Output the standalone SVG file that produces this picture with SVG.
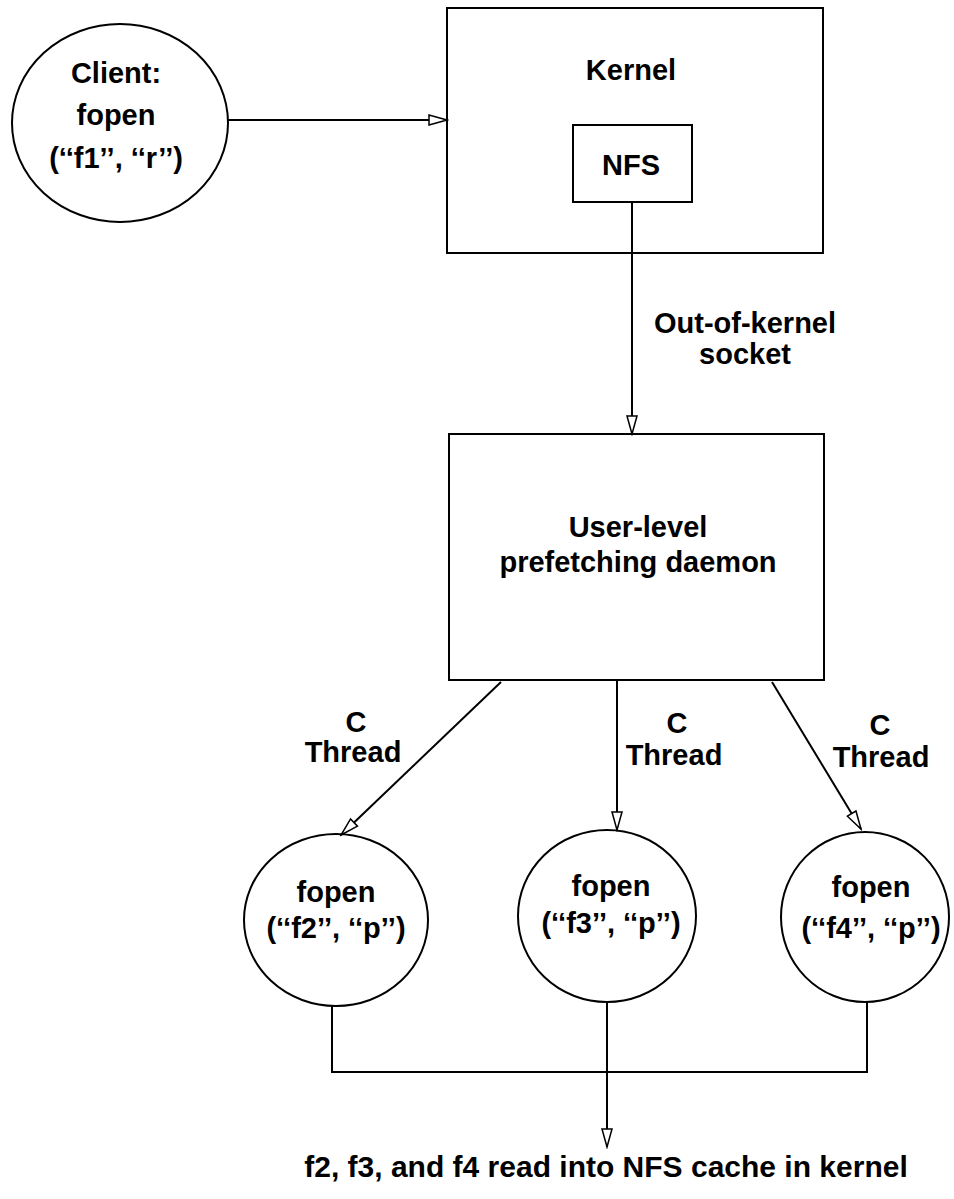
<svg xmlns="http://www.w3.org/2000/svg" width="954" height="1199" viewBox="0 0 954 1199">
  <style>
    .shape { fill: #ffffff; stroke: #000000; stroke-width: 2; }
    .wire { fill: none; stroke: #000000; stroke-width: 2; }
    text { font-family: "Liberation Sans", Arial, Helvetica, sans-serif; font-weight: bold; font-size: 29px; fill: #000000; text-anchor: middle; }
  </style>
  <defs>
    <marker id="open-head" viewBox="-20 -7 22 14" refX="0" refY="0" markerWidth="22" markerHeight="14" markerUnits="userSpaceOnUse" orient="auto">
      <path d="M0,0 L-18,-5 L-18,5 Z" fill="#ffffff" stroke="#000000" stroke-width="1.5" stroke-linejoin="miter"/>
    </marker>
  </defs>
  <rect width="954" height="1199" fill="#ffffff"/>

  <g id="client">
    <ellipse class="shape" cx="120" cy="123" rx="108" ry="99"/>
    <text x="116" y="83">Client:</text>
    <text x="116" y="125">fopen</text>
    <text x="116" y="168">(‘‘f1’’, ‘‘r’’)</text>
  </g>

  <g id="kernel">
    <rect class="shape" x="447" y="8" width="376" height="245"/>
    <text x="631" y="80">Kernel</text>
  </g>

  <g id="nfs">
    <rect class="shape" x="573" y="125" width="119" height="77"/>
    <text x="631" y="175">NFS</text>
  </g>

  <g id="daemon">
    <rect class="shape" x="449" y="434" width="375" height="246"/>
    <text x="638" y="537">User-level</text>
    <text x="638" y="572">prefetching daemon</text>
  </g>

  <g id="fopen-f2">
    <ellipse class="shape" cx="336" cy="920" rx="92" ry="86"/>
    <text x="336" y="902">fopen</text>
    <text x="336" y="938">(‘‘f2’’, ‘‘p’’)</text>
  </g>

  <g id="fopen-f3">
    <ellipse class="shape" cx="607" cy="916" rx="89" ry="86"/>
    <text x="611" y="896">fopen</text>
    <text x="611" y="933">(‘‘f3’’, ‘‘p’’)</text>
  </g>

  <g id="fopen-f4">
    <ellipse class="shape" cx="865" cy="917" rx="84" ry="85"/>
    <text x="871" y="897">fopen</text>
    <text x="871" y="938">(‘‘f4’’, ‘‘p’’)</text>
  </g>

  <g id="connectors">
    <line class="wire" x1="228" y1="120" x2="447" y2="120" marker-end="url(#open-head)"/>
    <line class="wire" x1="632" y1="202" x2="632" y2="434" marker-end="url(#open-head)"/>
    <line class="wire" x1="501" y1="682" x2="341" y2="835" marker-end="url(#open-head)"/>
    <line class="wire" x1="617" y1="681" x2="617" y2="830" marker-end="url(#open-head)"/>
    <line class="wire" x1="772" y1="682" x2="861" y2="829" marker-end="url(#open-head)"/>
    <polyline class="wire" points="332,1006 332,1072 867,1072 867,1002"/>
    <line class="wire" x1="607" y1="1002" x2="607" y2="1147" marker-end="url(#open-head)"/>
  </g>

  <g id="labels">
    <text x="745" y="333">Out-of-kernel</text>
    <text x="745" y="364">socket</text>
    <text x="356" y="732">C</text>
    <text x="353" y="762">Thread</text>
    <text x="677" y="733">C</text>
    <text x="674" y="765">Thread</text>
    <text x="880" y="735">C</text>
    <text x="881" y="767">Thread</text>
    <text x="606" y="1177" style="font-size:30px">f2, f3, and f4 read into NFS cache in kernel</text>
  </g>
</svg>
